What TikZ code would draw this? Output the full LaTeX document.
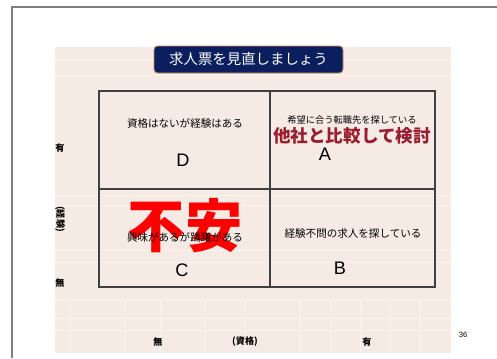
\documentclass[tikz,border=0pt]{standalone}
\usepackage{fontspec}
\setmainfont{Liberation Sans}
\newfontfamily\jp{Noto Sans CJK JP}
\definecolor{panelbg}{HTML}{F6EBE4}
\definecolor{navy}{HTML}{0B1F5E}
\definecolor{tan}{HTML}{C8905A}
\definecolor{wine}{HTML}{9A1C2E}
\definecolor{framegray}{HTML}{7F7F7F}
\begin{document}
\begin{tikzpicture}[x=0.03cm, y=-0.03cm,
    every node/.style={inner sep=0pt, font=\jp\fontsize{9}{10}\selectfont},
    quadtext/.style={font=\jp\fontsize{9}{10}\selectfont},
    letter/.style={font=\fontsize{15.5}{16}\selectfont},
    axislabel/.style={font=\jp\bfseries\fontsize{7.8}{9}\selectfont}]
  \useasboundingbox[fill=white] (0,0) rectangle (497,358);

  % slide frame and panel
  \draw[framegray, line width=1.8pt] (12,358) -- (12,7) -- (497,7);
  \fill[panelbg] (55,47) rectangle (451,353);
  \foreach \yy in {60,75,195,205,250,262,300,318,330}
    \draw[white, opacity=0.5, line width=0.6pt] (55,\yy) -- (451,\yy);
  \foreach \xx in {70,125,160,205,245,300,330,360,390,420}
    \draw[white, opacity=0.5, line width=0.6pt] (\xx,300) -- (\xx,353);

  % title
  \node[fill=navy, draw=tan, line width=0.8pt, rounded corners=3pt,
        minimum width=189*0.03cm, minimum height=27*0.03cm,
        text=white, font=\jp\fontsize{12.3}{14}\selectfont] (title) at (248.5,59.5) {求人票を見直しましょう};

  % quadrant grid
  \draw[black!75, line width=1.1pt] (99,91) rectangle (435,287);
  \draw[black!75, line width=1.1pt] (270,91) -- (270,287);
  \draw[black!75, line width=1.1pt] (99,189) -- (435,189);

  % D
  \node[quadtext] (dtext) at (185,123) {資格はないが経験はある};
  \node[letter] (d) at (183,160) {D};

  % A
  \node[quadtext, font=\jp\fontsize{7.9}{9}\selectfont] (atext) at (352,120) {希望に合う転職先を探している};
  \node[text=wine, font=\jp\bfseries\fontsize{15}{16}\selectfont] (compare) at (352,136) {他社と比較して検討};
  \node[letter] (a) at (325,154) {A};

  % C
  \node[text=red, font=\jp\bfseries\fontsize{49}{50}\selectfont] (fuan) at (185,226) {不安};
  \node[quadtext] (ctext) at (185,237) {興味があるが躊躇がある};
  \node[letter] (c) at (182,270) {C};

  % B
  \node[quadtext] (btext) at (353,234) {経験不問の求人を探している};
  \node[letter] (b) at (340,268) {B};

  % axes
  \node[axislabel] (yhas) at (60,148) {有};
  \node[axislabel, rotate=-90] (yexp) at (60,219) {(経験)};
  \node[axislabel] (ynone) at (60,283) {無};
  \node[axislabel] (xnone) at (158,342) {無};
  \node[axislabel] (xqual) at (245,342) {(資格)};
  \node[axislabel] (xhas) at (367,342) {有};
  \node[font=\fontsize{6.5}{8}\selectfont] (page) at (463,335) {36};
\end{tikzpicture}
\end{document}
